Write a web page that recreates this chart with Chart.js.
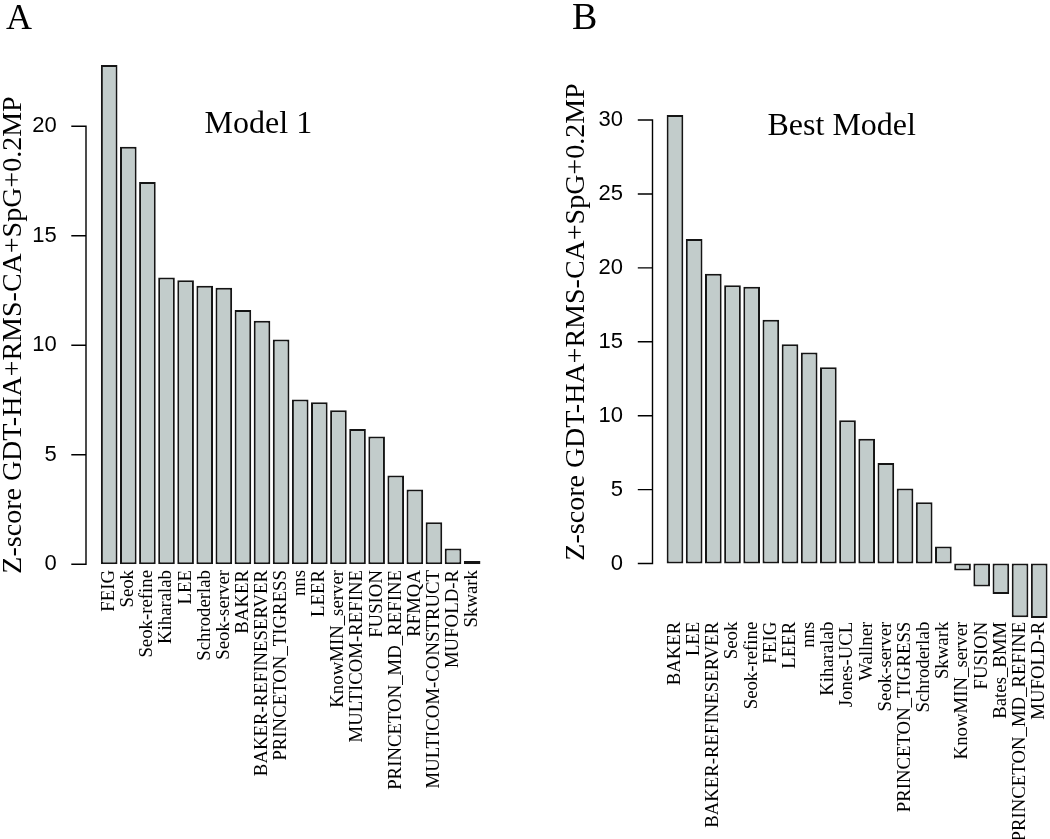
<!DOCTYPE html>
<html><head><meta charset="utf-8">
<script src="https://cdn.jsdelivr.net/npm/chart.js@4.4.1/dist/chart.umd.min.js"></script>
<style>
html,body{margin:0;padding:0;background:#fff;overflow:hidden;width:1050px;height:839px;}
#wrap{position:relative;width:1050px;height:839px;}
canvas{position:absolute;top:0;}
.t{position:absolute;font-family:"Liberation Serif","Times New Roman",serif;color:#000;line-height:1;white-space:nowrap;width:max-content;}
.rot{transform:translate(-50%,-50%) rotate(-90deg);}
</style></head>
<body><div id="wrap">
<canvas id="c1" width="525" height="839" style="left:0;width:525px;height:839px"></canvas>
<canvas id="c2" width="525" height="839" style="left:525px;width:525px;height:839px"></canvas>
<div class="t" style="left:6px;top:-1px;font-size:36px">A</div>
<div class="t" style="left:572px;top:-3px;font-size:38px">B</div>
<div class="t" style="left:204.6px;top:105.9px;font-size:32px">Model 1</div>
<div class="t" style="left:767.5px;top:107.5px;font-size:32px">Best Model</div>
<div class="t rot" style="left:12px;top:335px;font-size:28px">Z-score GDT-HA+RMS-CA+SpG+0.2MP</div>
<div class="t rot" style="left:575px;top:321.5px;font-size:28px">Z-score GDT-HA+RMS-CA+SpG+0.2MP</div>
</div>
<script>
// Panel A: Model 1
const catsA = ["FEIG","Seok","Seok-refine","Kiharalab","LEE","Schroderlab","Seok-server","BAKER",
  "BAKER-REFINESERVER","PRINCETON_TIGRESS","nns","LEER","KnowMIN_server","MULTICOM-REFINE","FUSION",
  "PRINCETON_MD_REFINE","RFMQA","MULTICOM-CONSTRUCT","MUFOLD-R","Skwark"];
const valsA = [22.80,19.07,17.46,13.09,12.97,12.72,12.63,11.61,11.12,10.26,7.52,7.40,7.03,6.18,5.83,4.06,3.41,1.92,0.72,0.15];

// Panel B: Best Model
const catsB = ["BAKER","LEE","BAKER-REFINESERVER","Seok","Seok-refine","FEIG","LEER","nns","Kiharalab",
  "Jones-UCL","Wallner","Seok-server","PRINCETON_TIGRESS","Schroderlab","Skwark","KnowMIN_server",
  "FUSION","Bates_BMM","PRINCETON_MD_REFINE","MUFOLD-R"];
const valsB = [30.35,21.95,19.60,18.82,18.73,16.50,14.83,14.28,13.28,9.70,8.44,6.80,5.08,4.14,1.16,-0.48,-1.55,-2.06,-3.63,-3.68];

const yStep = 5;

const rAxis = {
  id:'rAxis',
  afterDraw(chart, args, o){
    const y = chart.scales.y, ctx = chart.ctx;
    const vals = y.ticks.map(t=>t.value);
    const lo = Math.min(...vals), hi = Math.max(...vals);
    ctx.save();
    ctx.strokeStyle='#000'; ctx.lineWidth=1.4; ctx.lineCap='square';
    ctx.beginPath();
    ctx.moveTo(o.x, y.getPixelForValue(lo)); ctx.lineTo(o.x, y.getPixelForValue(hi));
    vals.forEach(v=>{const p=y.getPixelForValue(v); ctx.moveTo(o.x-o.len,p); ctx.lineTo(o.x,p);});
    ctx.stroke(); ctx.restore();
  }
};

function make(id, cats, vals, cfg){
  return new Chart(document.getElementById(id), {
    type:'bar',
    data:{labels:cats, datasets:[{data:vals, backgroundColor:'#c2cccb', borderColor:'#151515',
      borderWidth:2, categoryPercentage:1, barPercentage:0.87, borderSkipped:false}]},
    options:{responsive:false, animation:false, events:[],
      layout:{padding:{left:0,right:cfg.padR,top:cfg.padT,bottom:0}},
      plugins:{legend:{display:false}, tooltip:{enabled:false}, title:{display:false}, rAxis:{x:cfg.axisX,len:14}},
      scales:{
        x:{type:'category', offset:true, grid:{display:false,drawTicks:false}, border:{display:false},
           ticks:{autoSkip:false, minRotation:90, maxRotation:90, padding:cfg.xPad, color:'#000',
             font:{family:'"Liberation Serif", "Times New Roman", serif', size:18.8}},
           afterFit(s){s.height=cfg.xH; s.paddingLeft=0; s.paddingRight=0;}},
        y:{min:cfg.min, max:cfg.max, grid:{display:false,drawTicks:false}, border:{display:false},
           ticks:{stepSize:yStep, includeBounds:false, padding:cfg.yPad, color:'#000',
             font:{family:'"Liberation Sans", Arial, sans-serif', size:22}},
           afterFit(s){s.width=cfg.yW; s.paddingTop=0; s.paddingBottom=0;}}
      }},
    plugins:[rAxis]
  });
}

make('c1', catsA, valsA, {padR:43.3, padT:56.2, yW:99.65, xH:274.7, min:0, max:23.2, xPad:5.7, yPad:43, axisX:86});
make('c2', catsB, valsB, {padR:1.2, padT:97.9, yW:140.4, xH:219.3, min:-3.8, max:31.5, xPad:2, yPad:42.4, axisX:127.5});
</script>
</body></html>
